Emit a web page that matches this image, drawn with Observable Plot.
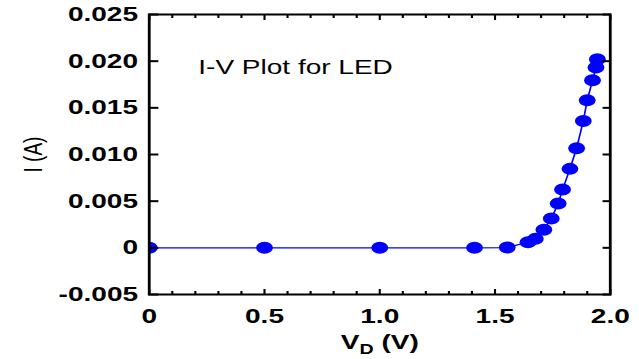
<!DOCTYPE html>
<html>
<head>
<meta charset="utf-8">
<script src="https://cdn.jsdelivr.net/npm/d3@7"></script>
<script src="https://cdn.jsdelivr.net/npm/@observablehq/plot@0.6"></script>
<style>
  html, body { margin: 0; padding: 0; background: white; overflow: hidden; }
  #chart { width: 639px; height: 359px; overflow: hidden; }
  #chart svg { display: block; transform-origin: 0 0; }
</style>
</head>
<body>
<div id="chart"></div>
<script>
// Data
const voltage = [0, 0.5, 1.0, 1.411, 1.553, 1.643, 1.675, 1.712, 1.744, 1.774, 1.793, 1.825, 1.854, 1.883, 1.900, 1.923, 1.938, 1.944];
const current = [0, 0, 0, 0, 0.00003, 0.00061, 0.00096, 0.00193, 0.00314, 0.00474, 0.00624, 0.00846, 0.01067, 0.0136, 0.01581, 0.01795, 0.01932, 0.0202];
const majorX = [0, 0.5, 1.0, 1.5, 2.0];
const minorX = [0.1, 0.2, 0.3, 0.4, 0.6, 0.7, 0.8, 0.9, 1.1, 1.2, 1.3, 1.4, 1.6, 1.7, 1.8, 1.9];
const yTicks = [-0.005, 0, 0.005, 0.010, 0.015, 0.020, 0.025];
const title = "I-V Plot for LED";
const xLabel = "VD (V)";
const yLabel = "I (A)";

const rows = voltage.map((v, i) => ({v, i: current[i]}));
const W = 456;
const S = 639 / W;
const font = "'Liberation Sans', Arial, Helvetica, sans-serif";
const fmtX = d => d === 0 ? "0" : d.toFixed(1);
const fmtY = d => d === 0 ? "0" : d.toFixed(3);
const blank = () => "";

const chart = Plot.plot({
  width: W,
  height: 359,
  marginLeft: 106,
  marginRight: 21,
  marginTop: 14,
  marginBottom: 65,
  x: {domain: [0, 2]},
  y: {domain: [-0.005, 0.025]},
  style: {fontFamily: font, background: "white", color: "black", overflow: "visible"},
  marks: [
    Plot.line(rows, {x: "v", y: "i", stroke: "blue", strokeWidth: 1.2, clip: true}),
    Plot.dot(rows, {x: "v", y: "i", r: 6, fill: "blue", stroke: "none", clip: true}),
    Plot.frame({stroke: "black", strokeWidth: 2}),
    Plot.axisX({ticks: majorX, tickSize: -5, tickPadding: 19, tickFormat: fmtX, fontSize: 20, fontWeight: "bold",
                label: xLabel, labelAnchor: "center", labelOffset: 54, labelArrow: "none", strokeWidth: 1.5}),
    Plot.axisX({ticks: minorX, tickSize: -3, tickFormat: blank, label: null, strokeWidth: 1.5}),
    Plot.axisX({anchor: "top", ticks: majorX, tickSize: -5, tickFormat: blank, label: null, strokeWidth: 1.5}),
    Plot.axisX({anchor: "top", ticks: minorX, tickSize: -3, tickFormat: blank, label: null, strokeWidth: 1.5}),
    Plot.axisY({ticks: yTicks, tickSize: -7, tickPadding: 15, tickFormat: fmtY, fontSize: 20, fontWeight: "bold",
                label: yLabel, labelAnchor: "center", labelOffset: 90, labelArrow: "none", strokeWidth: 2}),
    Plot.axisY({anchor: "right", ticks: yTicks, tickSize: -6, tickFormat: blank, label: null, strokeWidth: 2}),
    Plot.text([title], {frameAnchor: "top-left", dx: 35, dy: 45, textAnchor: "start", fontSize: 20, fill: "black"})
  ]
});

chart.style.transform = `scaleX(${S})`;
document.getElementById("chart").appendChild(chart);

// y label: normal weight
const yl = chart.querySelector('[aria-label="y-axis label"]');
if (yl) { yl.setAttribute("font-weight", "normal"); yl.setAttribute("font-size", "19"); }

// x label: subscript D
const xl = chart.querySelector('[aria-label="x-axis label"]');
if (xl) {
  const t = xl.querySelector("text");
  if (t) {
    t.textContent = "";
    const ns = "http://www.w3.org/2000/svg";
    const a = document.createElementNS(ns, "tspan"); a.textContent = "V";
    const b = document.createElementNS(ns, "tspan"); b.textContent = "D";
    b.setAttribute("font-size", "14"); b.setAttribute("dy", "5");
    const c = document.createElementNS(ns, "tspan"); c.textContent = " (V)"; c.setAttribute("dy", "-5");
    t.append(a, b, c);
  }
}
</script>
</body>
</html>
